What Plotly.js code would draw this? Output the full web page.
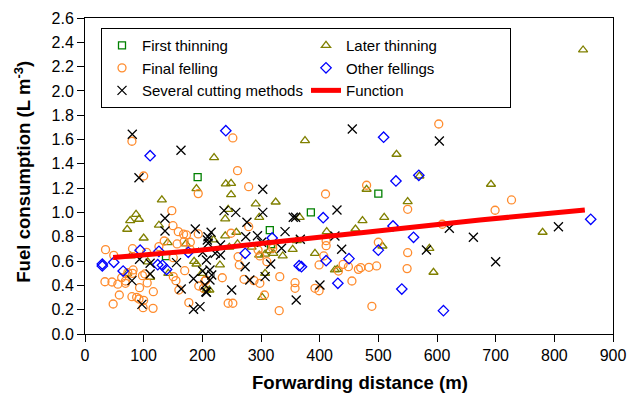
<!DOCTYPE html>
<html>
<head>
<meta charset="utf-8">
<script src="https://cdn.plot.ly/plotly-3.0.1.min.js"></script>
<style>html,body{margin:0;padding:0;background:#fff;}#chart{width:628px;height:405px;}</style>
</head>
<body>
<div id="chart"></div>
<script>
// First thinning
const firstX = [138, 192, 315, 317, 385, 500];
const firstY = [0.64, 1.29, 0.855, 0.74, 1.0, 1.155];

// Later thinning
const laterX = [190, 131, 87, 77, 92, 72, 126, 100,
  78, 107, 141, 172, 186, 190, 111, 72, 207, 142,
  375, 220, 240, 249, 249, 325, 291, 244, 239, 297, 366, 258, 239, 412,
  246, 260, 284, 297, 307, 314, 321, 337, 354, 361, 392, 430, 307, 302, 230, 212, 219, 199,
  531, 570, 480, 550, 473, 510, 461, 507, 426, 587, 594,
  692, 780, 849];
const laterY = [1.196, 1.103, 0.985, 0.933, 0.944, 0.862, 0.895, 0.79,
  0.642, 0.593, 0.752, 0.741, 0.598, 0.576, 0.467, 0.499, 0.362, 0.499,
  1.591, 1.451, 1.235, 1.24, 1.147, 1.086, 1.07, 1.026, 0.947, 0.96, 0.96, 0.837, 0.807, 0.842,
  0.714, 0.741, 0.714, 0.65, 0.658, 0.686, 0.664, 0.642, 0.697, 0.768, 0.664, 0.532, 0.499, 0.302, 0.568, 0.362, 0.774, 0.499,
  1.479, 1.30, 1.191, 1.089, 0.933, 0.96, 0.864, 0.724, 0.527, 0.705, 0.508,
  1.232, 0.837, 2.337];

// Final felling
const finalX = [80, 100, 193, 148, 150, 159, 168, 173, 193,
  35, 49, 81, 34, 46, 56, 58.5, 48, 69, 69, 62.5, 73, 81, 93, 80, 88, 92, 100, 99, 116, 116.5, 106, 98, 102, 82, 105, 126, 135, 150.5, 157, 169, 179.5, 179, 170, 155, 160, 150.5, 177, 194, 204.5,
  252, 260, 279, 410, 279, 249, 261, 263, 234, 206, 202, 271, 288, 298, 310, 298, 295, 320, 320, 332, 306, 244, 252, 331, 358, 358, 392, 399, 411, 411, 407, 399,
  603, 480, 550, 609, 500, 550, 549, 440, 449, 432, 466, 470, 484, 497, 455, 489,
  727, 699];
const finalY = [1.586, 1.30, 1.155, 1.015, 0.891, 0.842, 0.821, 0.815, 0.823,
  0.694, 0.647, 0.702, 0.43, 0.428, 0.41, 0.321, 0.247, 0.436, 0.417, 0.463, 0.505, 0.499, 0.381, 0.307, 0.302, 0.288, 0.277, 0.217, 0.211, 0.348, 0.42, 0.48, 0.494, 0.527, 0.672, 0.719, 0.765, 0.628, 0.741, 0.76, 0.755, 0.697, 0.521, 0.439, 0.362, 0.472, 0.258, 0.395, 0.436,
  1.613, 1.344, 1.212, 1.152, 0.883, 0.829, 0.636, 0.568, 0.463, 0.444, 0.376, 0.45, 0.439, 0.417, 0.595, 0.642, 0.691, 0.705, 0.732, 0.472, 0.321, 0.253, 0.253, 0.192, 0.422, 0.376, 0.376, 0.356, 0.768, 0.727, 0.642, 0.568,
  1.728, 1.224, 1.026, 0.903, 0.755, 0.669, 0.538, 0.573, 0.554, 0.518, 0.532, 0.546, 0.549, 0.56, 0.436, 0.228,
  1.103, 1.018];

// Other fellings
const otherX = [29.5, 29.5, 49, 65, 94, 111, 124, 132, 139, 126, 176, 240, 273, 319, 365, 369, 406, 411, 431, 450, 500, 509, 525, 530, 540, 560, 569, 611, 862];
const otherY = [0.575, 0.56, 0.59, 0.518, 0.69, 1.467, 0.57, 0.565, 0.53, 0.68, 0.672, 1.673, 0.664, 0.79, 0.562, 0.554, 0.957, 0.603, 0.417, 0.62, 0.69, 1.619, 0.889, 1.259, 0.37, 0.796, 1.306, 0.192, 0.944];

// Several cutting methods
const severalX = [80.6, 163.6, 92, 136.4, 136.4, 188, 209.6,
  93, 111, 111, 80, 97, 156, 164, 185, 185, 200.6, 200.6, 208.5, 207,
  303, 237, 257, 303, 276, 355, 359, 429.5, 215, 274, 294, 341,
  210, 231, 222, 207, 231, 301, 335, 367, 426, 273, 213, 216, 213, 206, 204.5, 281, 307, 316.5, 250, 360, 400.5, 196,
  455.6, 604, 621, 662, 437.5, 582, 807, 700];
const severalY = [1.644, 1.512, 1.286, 0.952, 0.848, 0.864, 0.80,
  0.615, 0.582, 0.494, 0.439, 0.244, 0.587, 0.37, 0.455, 0.203, 0.672, 0.518, 0.774, 0.343,
  1.191, 1.015, 1.001, 1.001, 0.919, 0.96, 0.96, 1.02, 0.837, 0.80, 0.809, 0.842,
  0.746, 0.732, 0.664, 0.609, 0.65, 0.755, 0.705, 0.779, 0.807, 0.554, 0.527, 0.486, 0.444, 0.348, 0.403, 0.444, 0.472, 0.576, 0.362, 0.28, 0.403, 0.225,
  1.687, 1.588, 0.87, 0.796, 0.697, 0.691, 0.883, 0.595];

// Function
const funcX = [48, 196, 435, 673, 852];
const funcY = [0.63, 0.69, 0.815, 0.938, 1.02];

const xTitle = '<b>Forwarding distance (m)</b>';
const yTitle = '<b>Fuel consumption (L m<sup>-3</sup>)</b>';

const FONT = 'Arial, "Liberation Sans", sans-serif';

const traces = [
  {x: firstX, y: firstY, name: 'First thinning', type: 'scatter', mode: 'markers',
   marker: {symbol: 'square-open', size: 7, color: '#008000', line: {width: 1.3}}},
  {x: laterX, y: laterY, name: 'Later thinning', type: 'scatter', mode: 'markers',
   marker: {symbol: 'triangle-up-open', size: 8, color: '#808000', line: {width: 1.3}}},
  {x: finalX, y: finalY, name: 'Final felling', type: 'scatter', mode: 'markers',
   marker: {symbol: 'circle-open', size: 8, color: '#FF8C2E', line: {width: 1.3}}},
  {x: otherX, y: otherY, name: 'Other fellings', type: 'scatter', mode: 'markers',
   marker: {symbol: 'diamond-open', size: 8, color: '#0000FF', line: {width: 1.3}}},
  {x: severalX, y: severalY, name: 'Several cutting methods', type: 'scatter', mode: 'markers',
   marker: {symbol: 'x-thin-open', size: 9, color: '#000000', line: {width: 1.3, color: '#000000'}}},
  {x: funcX, y: funcY, name: 'Function', type: 'scatter', mode: 'lines',
   line: {color: '#FF0000', width: 5}}
];

const axisCommon = {
  showgrid: false, zeroline: false, showline: true, linecolor: '#000', linewidth: 1,
  mirror: true, ticks: 'outside', ticklen: 7, tickcolor: '#000', tickwidth: 1,
  tickfont: {family: FONT, size: 16, color: '#000'}
};

const layout = {
  width: 628, height: 405,
  margin: {l: 85, r: 15, t: 18, b: 71},
  paper_bgcolor: '#fff', plot_bgcolor: '#fff',
  font: {family: FONT, color: '#000'},
  showlegend: true,
  xaxis: Object.assign({}, axisCommon, {range: [0, 900], dtick: 100, tick0: 0}),
  yaxis: Object.assign({}, axisCommon, {range: [0, 2.6], dtick: 0.2, tick0: 0, tickformat: '.1f'}),
  annotations: [
    {text: xTitle, xref: 'paper', yref: 'paper', x: 0.52, y: -0.155, xanchor: 'center', yanchor: 'middle',
     showarrow: false, font: {family: FONT, size: 18.6, color: '#000'}},
    {text: yTitle, xref: 'paper', yref: 'paper', x: -0.119, y: 0.514, xanchor: 'center', yanchor: 'middle',
     textangle: -90, showarrow: false, font: {family: FONT, size: 18.6, color: '#000'}}
  ],
  legend: {
    orientation: 'h', x: 0.0303, y: 0.968, xanchor: 'left', yanchor: 'top',
    entrywidth: 159, entrywidthmode: 'pixels',
    bordercolor: '#000', borderwidth: 1, bgcolor: '#fff',
    font: {family: FONT, size: 15, color: '#000'},
    traceorder: 'normal', itemsizing: 'trace'
  }
};

Plotly.newPlot('chart', traces, layout, {staticPlot: true, displayModeBar: false});
</script>
</body>
</html>
